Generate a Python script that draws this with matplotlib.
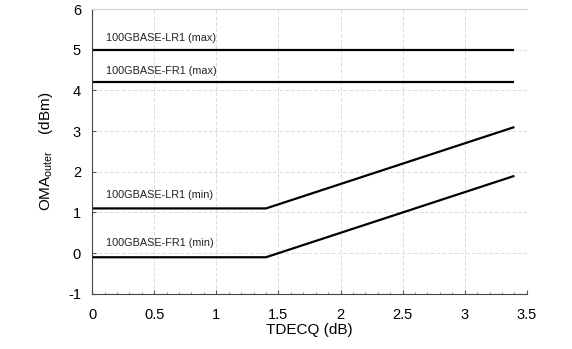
import matplotlib.pyplot as plt
from matplotlib.ticker import MultipleLocator

plt.rcParams['font.family'] = ['Liberation Sans', 'DejaVu Sans']
plt.rcParams['axes.unicode_minus'] = False

# ---------------------------------------------------------
# Data: OMA_outer limits vs TDECQ
# ---------------------------------------------------------
tdecq = [0.0, 1.4, 3.4]
lr1_max = [5.0, 5.0, 5.0]
fr1_max = [4.2, 4.2, 4.2]
lr1_min = [1.1, 1.1, 3.1]
fr1_min = [-0.1, -0.1, 1.9]

labels = ['100GBASE-LR1 (max)', '100GBASE-FR1 (max)',
          '100GBASE-LR1 (min)', '100GBASE-FR1 (min)']
label_y = [5.29, 4.48, 1.43, 0.25]

fig = plt.figure(figsize=(5.72, 3.49), dpi=100)
ax = fig.add_axes([0.161, 0.158, 0.76, 0.816])

for series in (lr1_max, fr1_max, lr1_min, fr1_min):
	ax.plot(tdecq, series, color='black', lw=1.6, solid_capstyle='butt')

for txt, y in zip(labels, label_y):
	ax.text(0.11, y, txt, fontsize=7.8, ha='left', va='center', color='#222222')

ax.set_xlim(0, 3.5)
ax.set_ylim(-1, 6)
ax.xaxis.set_minor_locator(MultipleLocator(0.1))
ax.set_xticks([0, 0.5, 1, 1.5, 2, 2.5, 3, 3.5])
ax.set_xticklabels(['0', '0.5', '1', '1.5', '2', '2.5', '3', '3.5'])
ax.set_yticks(range(-1, 7))

ax.tick_params(axis='both', which='major', direction='in', length=3,
			   labelsize=10.5, width=0.8, color='#555555')
ax.tick_params(axis='x', which='major', pad=10)
ax.tick_params(axis='y', which='major', pad=8)
ax.tick_params(axis='x', which='minor', direction='in', length=1.5,
			   width=0.6, color='#777777')

ax.grid(True, which='major', color='#dcdcdc', lw=0.7, linestyle=(0, (4, 2)))
ax.set_axisbelow(True)

ax.spines['right'].set_visible(False)
ax.spines['top'].set_color('#d0d0d0')
ax.spines['top'].set_linewidth(0.8)
ax.spines['left'].set_color('#444444')
ax.spines['bottom'].set_color('#444444')
ax.spines['left'].set_linewidth(0.8)
ax.spines['bottom'].set_linewidth(0.8)

ax.set_xlabel('TDECQ (dB)', fontsize=11, labelpad=1)
ax.set_ylabel(r'OMA$_{\mathregular{outer}}$    (dBm)', fontsize=11, labelpad=9.5)

plt.savefig('out.png', dpi=100)
